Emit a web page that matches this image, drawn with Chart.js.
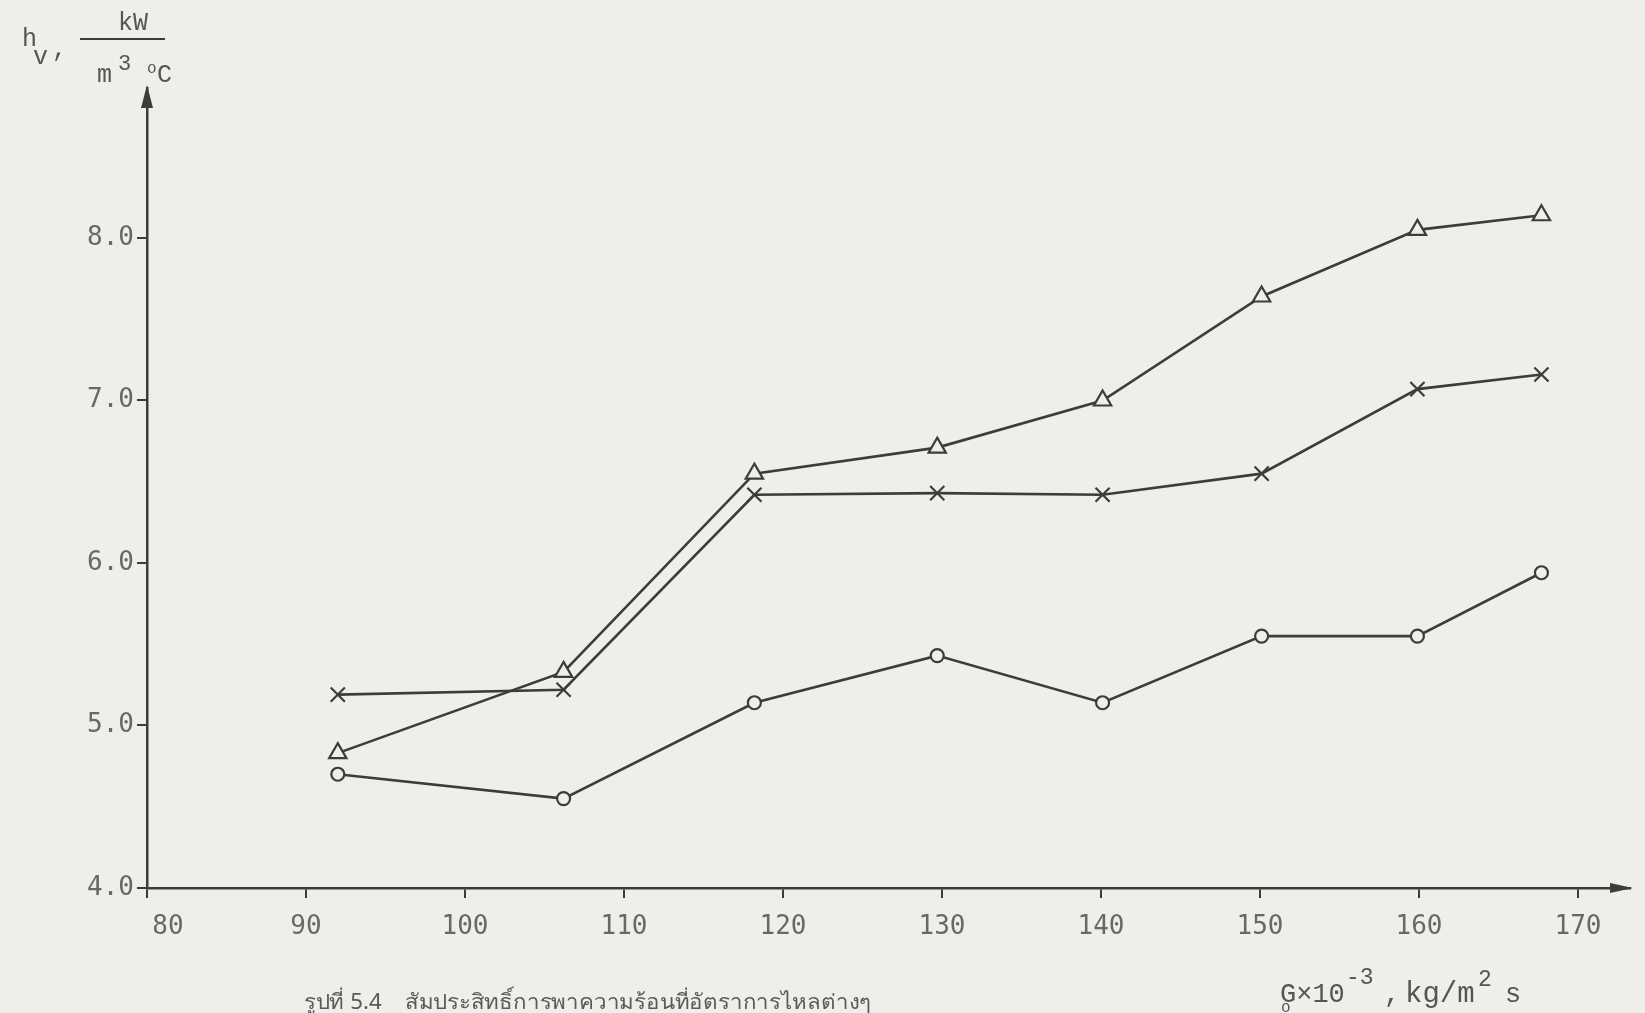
<!DOCTYPE html>
<html>
<head>
<meta charset="utf-8">
<title>h_v vs G</title>
<script src="https://cdn.jsdelivr.net/npm/chart.js@4.4.1/dist/chart.umd.min.js"></script>
<style>
  html, body { margin: 0; padding: 0; background: #efeeea; }
  #wrap { position: relative; width: 1645px; height: 1013px; }
</style>
</head>
<body>
<div id="wrap"><canvas id="c" width="1645" height="1013"></canvas></div>
<script>
// Mass flux G x 10^-3 (kg/m2 s) at which each run was measured
const flowRates = [92.0, 106.2, 118.2, 129.7, 140.1, 150.1, 159.9, 167.7];
// Volumetric heat transfer coefficient h_v (kW/m3 °C)
const hvTriangle = [4.83, 5.33, 6.55, 6.71, 7.00, 7.64, 8.05, 8.14];
const hvCross    = [5.19, 5.22, 6.42, 6.43, 6.42, 6.55, 7.07, 7.16];
const hvCircle   = [4.70, 4.55, 5.14, 5.43, 5.14, 5.55, 5.55, 5.94];
// Axis ticks and their printed labels
const xTicks = [80, 90, 100, 110, 120, 130, 140, 150, 160, 170];
const xTickLabels = ['80', '90', '100', '110', '120', '130', '140', '150', '160', '170'];
const yTicks = [4, 5, 6, 7, 8];
const yTickLabels = ['4.0', '5.0', '6.0', '7.0', '8.0'];
const caption = 'รูปที่ 5.4    สัมประสิทธิ์การพาความร้อนที่อัตราการไหลต่างๆ';

const INK = '#3c3c3c';
const LABEL = '#686866';
const PAPER = '#efeeea';
const MONO = '"DejaVu Sans Mono", "Liberation Mono", monospace';
const TYPE = '"Liberation Mono", "DejaVu Sans Mono", monospace';

const pts = vals => flowRates.map((x, i) => ({ x: x, y: vals[i] }));

function series(vals, style, radius) {
  return {
    data: pts(vals),
    borderColor: INK,
    borderWidth: 2.6,
    pointStyle: style,
    pointRadius: radius,
    pointBorderWidth: 2.2,
    pointBorderColor: INK,
    pointBackgroundColor: PAPER,
    tension: 0,
    clip: false
  };
}

// Axis arrows, tick labels, axis titles and caption
const decorations = {
  id: 'decorations',
  afterDraw(chart) {
    const ctx = chart.ctx;
    const xs = chart.scales.x, ys = chart.scales.y;
    const ca = chart.chartArea;
    ctx.save();
    ctx.fillStyle = INK;
    // arrow heads
    ctx.beginPath();
    ctx.moveTo(ca.left, ca.top - 3);
    ctx.lineTo(ca.left - 6, ca.top + 20);
    ctx.lineTo(ca.left + 6, ca.top + 20);
    ctx.closePath();
    ctx.fill();
    ctx.beginPath();
    ctx.moveTo(ca.right + 3, ca.bottom);
    ctx.lineTo(ca.right - 20, ca.bottom - 5);
    ctx.lineTo(ca.right - 20, ca.bottom + 5);
    ctx.closePath();
    ctx.fill();

    // tick labels
    ctx.fillStyle = LABEL;
    ctx.font = '26px ' + MONO;
    ctx.textBaseline = 'middle';
    ctx.textAlign = 'right';
    yTicks.forEach((v, i) => {
      ctx.fillText(yTickLabels[i], ys.left - 3, ys.getPixelForValue(v));
    });
    ctx.textAlign = 'center';
    xTicks.forEach((v, i) => {
      let px = xs.getPixelForValue(v);
      if (i === 0) px += 21;
      ctx.fillText(xTickLabels[i], px, ca.bottom + 39);
    });

    // y-axis title: h_v, kW / (m^3 °C)
    ctx.fillStyle = '#555553';
    ctx.textAlign = 'left';
    ctx.textBaseline = 'alphabetic';
    ctx.font = '25px ' + TYPE;
    ctx.fillText('h', 22, 46);
    ctx.fillText('v', 33, 64);
    ctx.fillText(',', 52, 56);
    ctx.textAlign = 'center';
    ctx.fillText('kW', 133, 30);
    ctx.strokeStyle = INK;
    ctx.lineWidth = 2;
    ctx.beginPath();
    ctx.moveTo(80, 39);
    ctx.lineTo(165, 39);
    ctx.stroke();
    ctx.textAlign = 'left';
    ctx.fillText('m', 97, 82);
    ctx.font = '22px ' + TYPE;
    ctx.fillText('3', 118, 70);
    ctx.font = '16px ' + TYPE;
    ctx.fillText('o', 147, 73);
    ctx.font = '25px ' + TYPE;
    ctx.fillText('C', 157, 82);

    // x-axis title: G_o x 10^-3 , kg/m^2 s
    const base = 1002;
    ctx.font = '27px ' + TYPE;
    ctx.fillText('G×10', 1280, base);
    ctx.font = '23px ' + TYPE;
    ctx.fillText('-3', 1346, base - 18);
    ctx.font = '27px ' + TYPE;
    ctx.fillText(',', 1384, base);
    ctx.font = '29px ' + TYPE;
    ctx.fillText('kg/m', 1405, base);
    ctx.font = '23px ' + TYPE;
    ctx.fillText('2', 1478, base - 16);
    ctx.font = '27px ' + TYPE;
    ctx.fillText('s', 1505, base);
    ctx.font = '16px ' + TYPE;
    ctx.fillText('o', 1281, base + 10);

    // caption, stretched to its printed width
    ctx.font = '21px "Noto Sans", "DejaVu Sans", sans-serif';
    ctx.fillStyle = '#5a5a58';
    const w = ctx.measureText(caption).width;
    ctx.translate(304, 1009);
    ctx.scale(567 / w, 1);
    ctx.fillText(caption, 0, 0);
    ctx.restore();
  }
};

new Chart(document.getElementById('c'), {
  type: 'line',
  data: {
    datasets: [
      series(hvTriangle, 'triangle', 10),
      series(hvCross, 'crossRot', 10),
      series(hvCircle, 'circle', 6.5)
    ]
  },
  options: {
    responsive: false,
    animation: false,
    devicePixelRatio: 1,
    layout: { padding: { left: 137, right: 15, top: 88, bottom: 115 } },
    plugins: { legend: { display: false }, tooltip: { enabled: false } },
    scales: {
      x: {
        type: 'linear',
        min: 80,
        max: 173.27,
        afterBuildTicks: s => { s.ticks = xTicks.map(v => ({ value: v })); },
        ticks: { display: false },
        grid: { drawOnChartArea: false, drawTicks: true, tickLength: 10, color: INK, lineWidth: 2 },
        border: { display: true, color: INK, width: 2.5 }
      },
      y: {
        type: 'linear',
        min: 4,
        max: 8.923,
        afterBuildTicks: s => { s.ticks = yTicks.map(v => ({ value: v })); },
        ticks: { display: false },
        grid: { drawOnChartArea: false, drawTicks: true, tickLength: 10, color: INK, lineWidth: 2 },
        border: { display: true, color: INK, width: 2.5 }
      }
    }
  },
  plugins: [decorations]
});
</script>
</body>
</html>
